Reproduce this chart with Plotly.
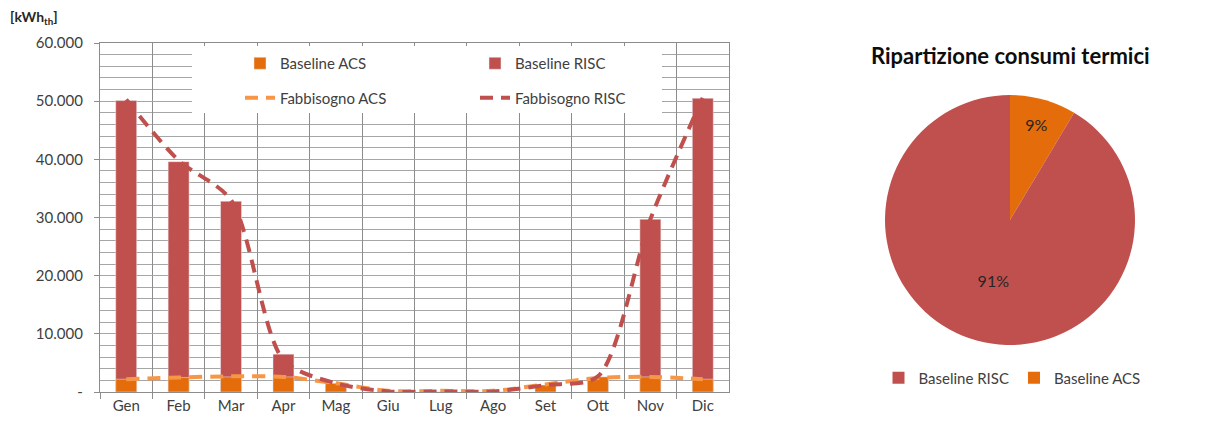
"""Consumi termici mensili (baseline vs fabbisogno) + ripartizione ACS/RISC."""

import plotly.graph_objects as go

MONTHS = ["Gen", "Feb", "Mar", "Apr", "Mag", "Giu", "Lug", "Ago", "Set", "Ott", "Nov", "Dic"]

baseline_risc = [50100, 39600, 32800, 6500, 1200, 0, 0, 0, 1000, 2000, 29700, 50500]
baseline_acs = [2200, 2500, 2600, 2600, 1500, 0, 0, 0, 1200, 2600, 2600, 2200]
fabbisogno_risc = [50300, 39800, 33000, 5500, 1500, 100, 100, 100, 1200, 2700, 29700, 50600]
fabbisogno_acs = [2200, 2500, 2700, 2600, 1500, 200, 200, 200, 1300, 2400, 2600, 2200]

Y_TICKS = [0, 10000, 20000, 30000, 40000, 50000, 60000]
Y_TICK_TEXT = ["-", "10.000", "20.000", "30.000", "40.000", "50.000", "60.000"]

PIE_LABELS = ["Baseline ACS", "Baseline RISC"]
pie_values = [sum(baseline_acs), sum(baseline_risc)]

RED = "#C0504D"
ORANGE = "#E46C0A"
LIGHT_ORANGE = "#F79646"
TEXT = "#404040"
FONT = "Lato, 'Noto Sans', sans-serif"

# page body has an 8px margin, so the figure is shrunk by that amount
PAD = 8
W, H = 1213 - PAD, 421 - PAD
TOP, BOTTOM = 43 - PAD, H - (392 - PAD)
PLOT_H = H - TOP - BOTTOM


def px_x(x):
    """Screenshot column -> paper fraction."""
    return (x - PAD) / W


def px_y(y):
    """Screenshot row -> paper fraction."""
    return (H - BOTTOM - (y - PAD)) / PLOT_H


fig = go.Figure()

# Bars (overlay: RISC behind, ACS in front)
fig.add_trace(go.Bar(
    x=MONTHS, y=baseline_risc, name="Baseline RISC", marker_color=RED,
    width=0.4, legend="legend2", legendgroup="b_risc",
))
fig.add_trace(go.Bar(
    x=MONTHS, y=baseline_acs, name="Baseline ACS", marker_color=ORANGE,
    width=0.4, legend="legend", legendgroup="b_acs",
))

# Demand lines
fig.add_trace(go.Scatter(
    x=MONTHS, y=fabbisogno_acs, name="Fabbisogno ACS", mode="lines",
    line=dict(color=LIGHT_ORANGE, width=4, dash="13px,8px", shape="spline", smoothing=0.8),
    legend="legend", legendgroup="f_acs",
))
fig.add_trace(go.Scatter(
    x=MONTHS, y=fabbisogno_risc, name="Fabbisogno RISC", mode="lines",
    line=dict(color=RED, width=4, dash="13px,8px", shape="spline", smoothing=0.8),
    legend="legend2", legendgroup="f_risc",
))

# Pie
fig.add_trace(go.Pie(
    labels=PIE_LABELS, values=pie_values, sort=False,
    marker=dict(colors=[ORANGE, RED], line=dict(width=0)),
    texttemplate="%{percent:.0%}", textposition="inside",
    insidetextfont=dict(color="#262626", size=16, family=FONT),
    domain=dict(x=[px_x(885), px_x(1135)], y=[px_y(345), px_y(95)]),
    legend="legend3", hoverinfo="label+value+percent",
))

fig.update_layout(
    width=W, height=H,
    barmode="overlay",
    plot_bgcolor="white", paper_bgcolor="white",
    font=dict(family=FONT, size=14, color=TEXT),
    margin=dict(l=0, r=0, t=TOP, b=BOTTOM),
    legend=dict(
        x=px_x(240), y=px_y(47), xanchor="left", yanchor="top",
        bgcolor="rgba(0,0,0,0)", tracegroupgap=12, font=dict(size=15),
    ),
    legend2=dict(
        x=px_x(475), y=px_y(47), xanchor="left", yanchor="top",
        bgcolor="rgba(0,0,0,0)", tracegroupgap=12, font=dict(size=15),
    ),
    legend3=dict(
        orientation="h", x=px_x(1012), y=px_y(378), xanchor="center", yanchor="middle",
        traceorder="reversed", bgcolor="rgba(0,0,0,0)", font=dict(size=15),
    ),
    xaxis=dict(
        domain=[px_x(100), px_x(729)], type="category", tickson="boundaries",
        showgrid=True, gridcolor="#8C8C8C", gridwidth=1.3,
        showline=True, linecolor="#8C8C8C", linewidth=1.3, mirror=True,
        ticks="outside", ticklen=6, tickcolor="#8C8C8C",
        tickfont=dict(size=15), fixedrange=True,
    ),
    yaxis=dict(
        range=[0, 60000], tickvals=Y_TICKS, ticktext=Y_TICK_TEXT,
        showgrid=True, gridcolor="#A6A6A6", gridwidth=1.3,
        minor=dict(dtick=2000, tick0=0, showgrid=True, gridcolor="#A6A6A6", gridwidth=1.3),
        showline=True, linecolor="#8C8C8C", linewidth=1.3, mirror=True,
        ticks="outside", ticklen=5, tickcolor="#8C8C8C",
        ticklabelstandoff=8, tickfont=dict(size=15), zeroline=False,
    ),
    shapes=[dict(
        type="rect", layer="above", xref="paper", yref="paper",
        x0=px_x(192), x1=px_x(662), y0=px_y(113), y1=px_y(46),
        fillcolor="white", line=dict(width=0),
    )],
    annotations=[
        dict(
            text="<b>[kWh<sub>th</sub>]</b>", x=px_x(8), y=px_y(18),
            xref="paper", yref="paper", xanchor="left", yanchor="middle",
            showarrow=False, font=dict(size=14, color="#262626"),
        ),
        dict(
            text="<b>Ripartizione consumi termici</b>", x=px_x(1010), y=px_y(55),
            xref="paper", yref="paper", xanchor="center", yanchor="middle",
            showarrow=False, font=dict(size=22, color="#0D0D0D"),
        ),
    ],
)

fig.write_html("out.html")
